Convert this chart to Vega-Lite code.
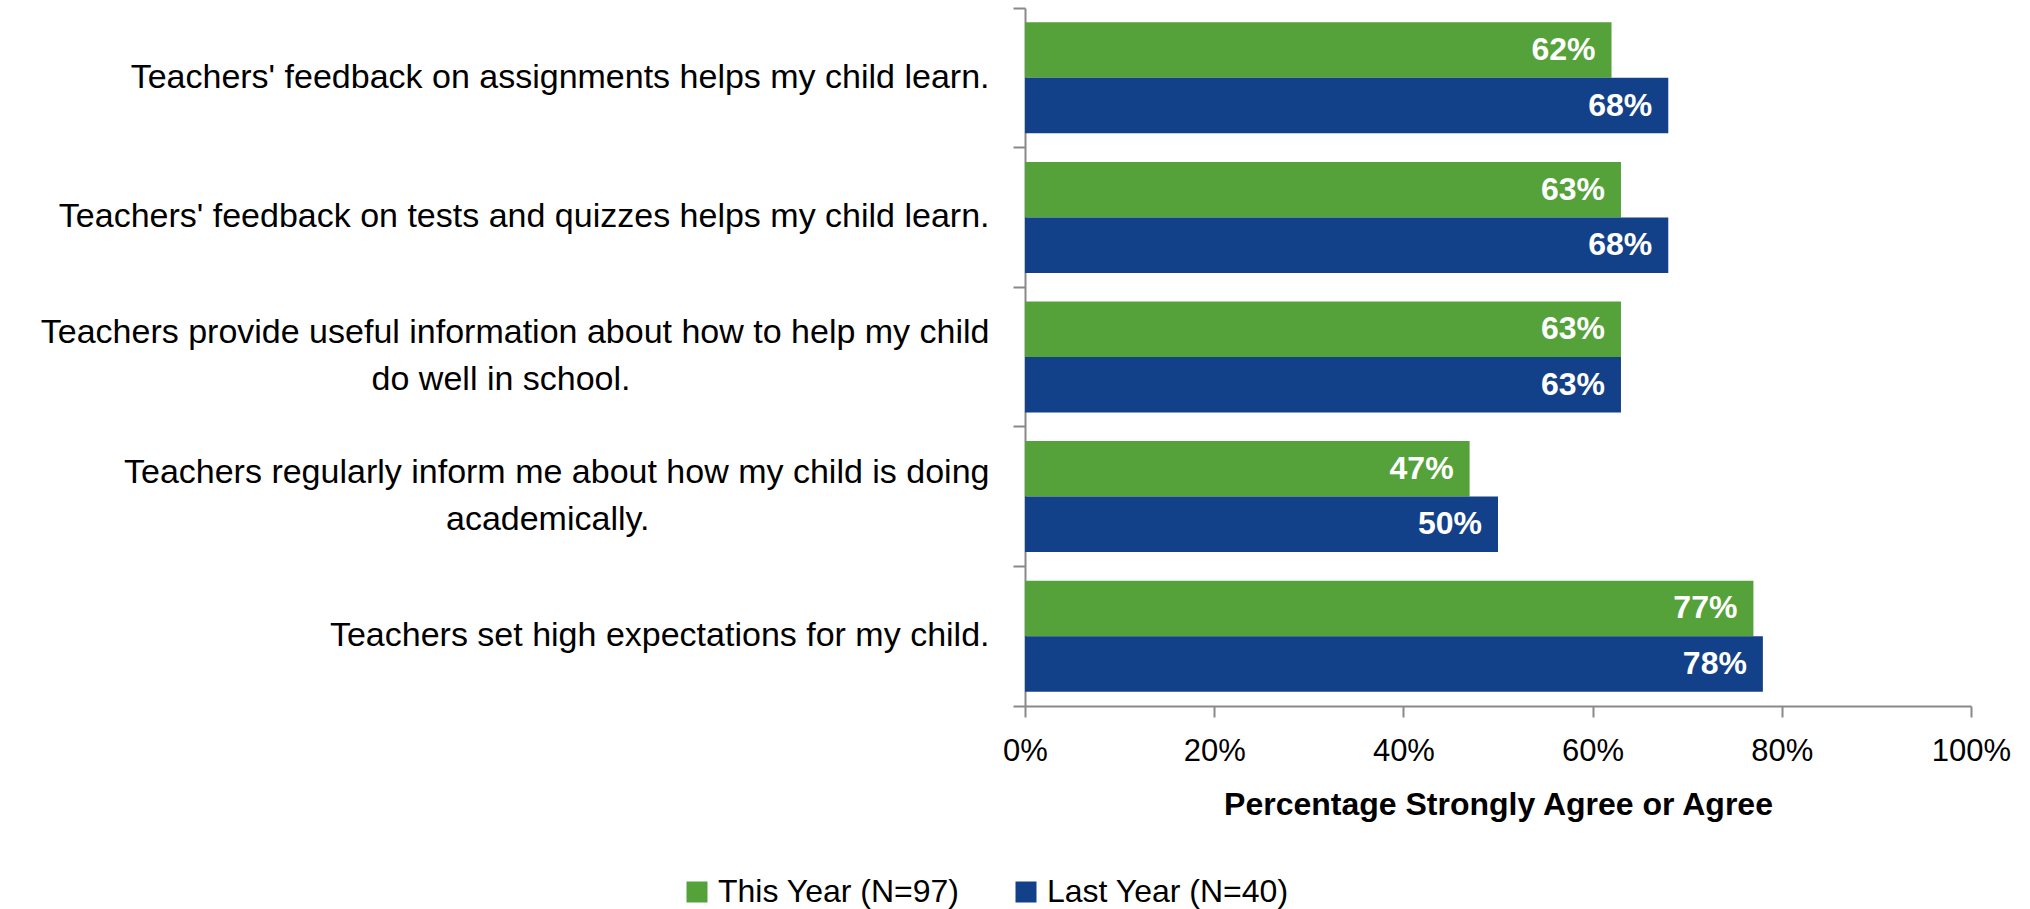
{
  "$schema": "https://vega.github.io/schema/vega-lite/v6.json",
  "width": 946,
  "height": 698,
  "autosize": {"type": "none"},
  "padding": {"left": 1025, "top": 8, "right": 59, "bottom": 203},
  "background": "white",
  "config": {"view": {"stroke": null}, "font": "Liberation Sans"},
  "data": {
    "values": [
      {"statement": "Teachers' feedback on assignments helps my child learn.", "series": "This Year (N=97)", "value": 0.62},
      {"statement": "Teachers' feedback on assignments helps my child learn.", "series": "Last Year (N=40)", "value": 0.68},
      {"statement": "Teachers' feedback on tests and quizzes helps my child learn.", "series": "This Year (N=97)", "value": 0.63},
      {"statement": "Teachers' feedback on tests and quizzes helps my child learn.", "series": "Last Year (N=40)", "value": 0.68},
      {"statement": "Teachers provide useful information about how to help my child do well in school.", "series": "This Year (N=97)", "value": 0.63},
      {"statement": "Teachers provide useful information about how to help my child do well in school.", "series": "Last Year (N=40)", "value": 0.63},
      {"statement": "Teachers regularly inform me about how my child is doing academically.", "series": "This Year (N=97)", "value": 0.47},
      {"statement": "Teachers regularly inform me about how my child is doing academically.", "series": "Last Year (N=40)", "value": 0.50},
      {"statement": "Teachers set high expectations for my child.", "series": "This Year (N=97)", "value": 0.77},
      {"statement": "Teachers set high expectations for my child.", "series": "Last Year (N=40)", "value": 0.78}
    ]
  },
  "encoding": {
    "y": {
      "field": "statement",
      "type": "nominal",
      "sort": [
        "Teachers' feedback on assignments helps my child learn.",
        "Teachers' feedback on tests and quizzes helps my child learn.",
        "Teachers provide useful information about how to help my child do well in school.",
        "Teachers regularly inform me about how my child is doing academically.",
        "Teachers set high expectations for my child."
      ],
      "scale": {"paddingInner": 0, "paddingOuter": 0},
      "axis": {
        "title": null,
        "bandPosition": 1,
        "tickExtra": true,
        "tickSize": 12,
        "tickWidth": 2,
        "tickColor": "#898989",
        "domainColor": "#898989",
        "domainWidth": 2,
        "labelFontSize": 34,
        "labelColor": "#000000",
        "labelLimit": 1200,
        "labelLineHeight": 47,
        "labelBaseline": {
          "condition": {"test": "datum.value == 'Teachers provide useful information about how to help my child do well in school.' || datum.value == 'Teachers regularly inform me about how my child is doing academically.'", "value": "line-bottom"},
          "value": "middle"
        },
        "labelAlign": "right",
        "labelPadding": 24,
        "labelExpr": "indexof(datum.label, 'do well') > 0 ? ['Teachers provide useful information about how to help my child', 'do well in school.\u00a0\u00a0\u00a0\u00a0\u00a0\u00a0\u00a0\u00a0\u00a0\u00a0\u00a0\u00a0\u00a0\u00a0\u00a0\u00a0\u00a0\u00a0\u00a0\u00a0\u00a0\u00a0\u00a0\u00a0\u00a0\u00a0\u00a0\u00a0\u00a0\u00a0\u00a0\u00a0\u00a0\u00a0\u00a0\u00a0\u00a0\u00a0\u200b'] : indexof(datum.label, 'academically') > 0 ? ['Teachers regularly inform me about how my child is doing', 'academically.\u00a0\u00a0\u00a0\u00a0\u00a0\u00a0\u00a0\u00a0\u00a0\u00a0\u00a0\u00a0\u00a0\u00a0\u00a0\u00a0\u00a0\u00a0\u00a0\u00a0\u00a0\u00a0\u00a0\u00a0\u00a0\u00a0\u00a0\u00a0\u00a0\u00a0\u00a0\u00a0\u00a0\u00a0\u00a0\u00a0\u200b'] : datum.label"
      }
    },
    "yOffset": {
      "field": "series",
      "type": "nominal",
      "sort": ["This Year (N=97)", "Last Year (N=40)"],
      "scale": {"paddingInner": 0, "paddingOuter": 0.258}
    }
  },
  "layer": [
    {
      "mark": {"type": "bar"},
      "encoding": {
        "x": {
          "field": "value",
          "type": "quantitative",
          "scale": {"domain": [0, 1], "nice": false},
          "axis": {
            "values": [0, 0.2, 0.4, 0.6, 0.8, 1],
            "format": ".0%",
            "grid": false,
            "tickSize": 11,
            "tickWidth": 2,
            "tickColor": "#898989",
            "domainColor": "#898989",
            "domainWidth": 2,
            "labelFontSize": 31,
            "labelColor": "#000000",
            "labelPadding": 19,
            "labelFlush": false,
            "title": "Percentage Strongly Agree or Agree",
            "titleFontSize": 32,
            "titleFontWeight": "bold",
            "titleColor": "#000000",
            "titlePadding": 23
          }
        },
        "color": {
          "field": "series",
          "type": "nominal",
          "scale": {"domain": ["This Year (N=97)", "Last Year (N=40)"], "range": ["#55A23A", "#134189"]},
          "legend": {
            "title": null,
            "orient": "none",
            "direction": "horizontal",
            "legendX": -344,
            "legendY": 868,
            "symbolType": "square",
            "symbolSize": 441,
            "symbolStrokeWidth": 0,
            "labelFontSize": 32,
            "labelColor": "#000000",
            "labelOffset": 5,
            "columnPadding": 50,
            "labelLimit": 400
          }
        }
      }
    },
    {
      "mark": {"type": "text", "align": "right", "dx": -16, "baseline": "middle", "fontWeight": "bold", "fontSize": 32, "color": "white"},
      "encoding": {
        "x": {"field": "value", "type": "quantitative"},
        "text": {"field": "value", "type": "quantitative", "format": ".0%"}
      }
    }
  ]
}
